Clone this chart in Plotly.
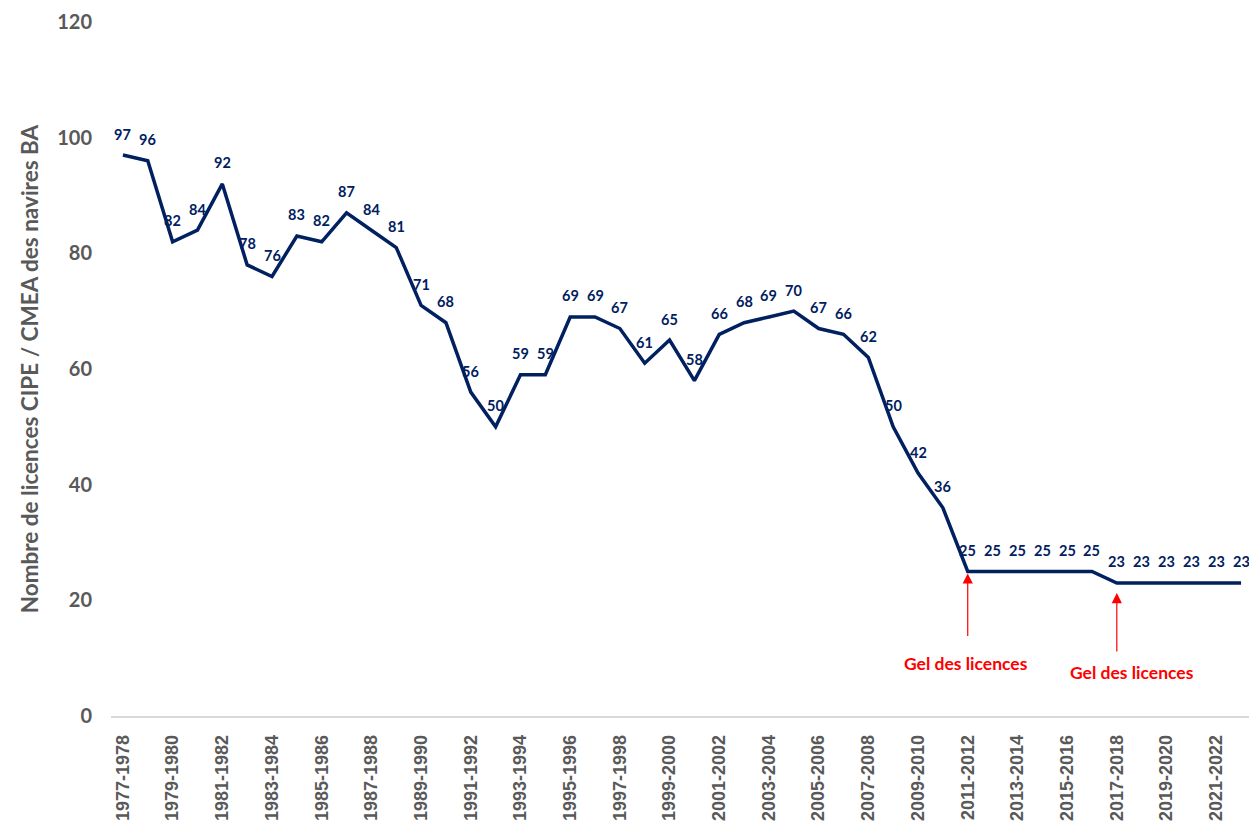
import plotly.graph_objects as go

start_years = list(range(1977, 2023))
categories = [f"{y}-{y+1}" for y in start_years]
values = [97, 96, 82, 84, 92, 78, 76, 83, 82, 87, 84, 81, 71, 68, 56, 50, 59, 59,
          69, 69, 67, 61, 65, 58, 66, 68, 69, 70, 67, 66, 62, 50, 42, 36,
          25, 25, 25, 25, 25, 25, 23, 23, 23, 23, 23, 23]
tick_labels = categories[::2]
freeze_events = ["2011-2012", "2017-2018"]
freeze_text = "Gel des licences"

NAVY = "#002060"
GRAY = "#595959"
RED = "#FF0000"

fig = go.Figure()
fig.add_trace(go.Scatter(
    x=categories, y=values, mode="lines",
    line=dict(color=NAVY, width=3.5), hoverinfo="x+y", showlegend=False,
))

annotations = []
for c, v in zip(categories, values):
    annotations.append(dict(
        x=c, y=v, xref="x", yref="y", text=str(v), showarrow=False,
        yshift=21, font=dict(family="Lato", size=14.5, color=NAVY, weight="bold"),
    ))

# (standoff px, arrow length px, text y-shift px, text x-shift px)
arrow_cfg = [(2, 64, -92, -2), (10, 60, -90, 15)]
for ev, (stand, ay, tshift, xs) in zip(freeze_events, arrow_cfg):
    v = values[categories.index(ev)]
    annotations.append(dict(
        x=ev, y=v, xref="x", yref="y", text="", showarrow=True,
        arrowhead=2, arrowsize=1.7, arrowwidth=1.2, arrowcolor=RED,
        ax=0, ay=ay + stand, standoff=stand,
    ))
    annotations.append(dict(
        x=ev, y=v, xref="x", yref="y", text=freeze_text, showarrow=False,
        yshift=tshift, xshift=xs,
        font=dict(family="Lato", size=17.5, color=RED, weight="bold"),
    ))

fig.update_layout(
    width=1249, height=825,
    margin=dict(l=111, r=0, t=22, b=109),
    plot_bgcolor="white", paper_bgcolor="white",
    annotations=annotations,
    xaxis=dict(
        type="category", categoryorder="array", categoryarray=categories,
        range=[-0.48, 45.32],
        tickmode="array", tickvals=tick_labels, ticktext=tick_labels,
        tickangle=-90, showgrid=False, showline=True, linecolor="#D9D9D9",
        linewidth=1.5, ticks="", ticklabelstandoff=10,
        tickfont=dict(family="Liberation Sans", size=18, color=GRAY, weight="bold"),
    ),
    yaxis=dict(
        range=[0, 120], dtick=20, showgrid=False, zeroline=False, showline=False,
        ticks="", ticklabelstandoff=18,
        tickfont=dict(family="Lato", size=20, color=GRAY, weight="bold"),
        title=dict(text="Nombre de licences CIPE / CMEA des navires BA",
                   font=dict(family="Lato", size=22.5, color=GRAY, weight="bold"),
                   standoff=12),
    ),
)

fig.write_html(
    "out.html",
    config={"displayModeBar": False},
    post_script="document.body.style.margin='0';document.body.style.overflow='hidden';",
)
